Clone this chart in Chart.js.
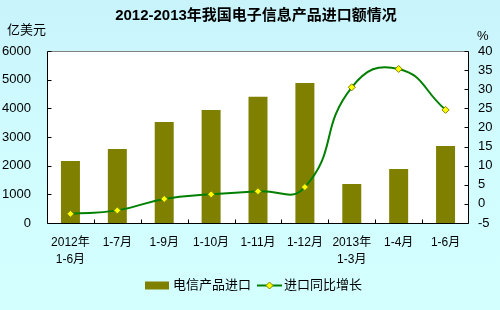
<!DOCTYPE html>
<html>
<head>
<meta charset="utf-8">
<script src="https://cdn.jsdelivr.net/npm/chart.js@4.4.0/dist/chart.umd.min.js"></script>
<style>
  html, body { margin: 0; padding: 0; }
  body {
    width: 500px; height: 310px; overflow: hidden;
    background: linear-gradient(to bottom, #c8f3fb 0%, #d0fcff 45%, #d4ffff 100%);
  }
  canvas { display: block; }
</style>
</head>
<body>
<canvas id="c" width="500" height="310"></canvas>
<script>
// ---- data ----
const categories = [['2012年', '1-6月'], '1-7月', '1-9月', '1-10月', '1-11月', '1-12月', ['2013年', '1-3月'], '1-4月', '1-6月'];
const importValues = [2160, 2580, 3520, 3940, 4400, 4880, 1360, 1880, 2690];   // 亿美元
const growthRates = [-2.6, -1.7, 1.3, 2.5, 3.3, 4.4, 30.5, 35.3, 24.6];        // %
const leftTicks = [0, 1000, 2000, 3000, 4000, 5000, 6000];
const rightTicks = [-5, 0, 5, 10, 15, 20, 25, 30, 35, 40];

const titleText = '2012-2013年我国电子信息产品进口额情况';
const barLabel = '电信产品进口';
const lineLabel = '进口同比增长';

const FONT = '"Liberation Sans", Arial, "Noto Sans CJK SC", sans-serif';
const OLIVE = '#808000';
const GREEN = '#008000';

// frame, inward ticks, title, unit labels and legend
const framePlugin = {
  id: 'frame',
  beforeDraw(chart) {
    const { ctx, chartArea: a } = chart;
    ctx.save();
    ctx.fillStyle = '#ffffff';
    ctx.fillRect(a.left, a.top, a.right - a.left, a.bottom - a.top);
    ctx.restore();
  },
  afterDraw(chart) {
    const { ctx, chartArea: a, scales } = chart;
    const L = Math.round(a.left) + 0.5, R = Math.round(a.right) - 0.5;
    const T = Math.round(a.top) + 0.5, B = Math.round(a.bottom) + 0.5;
    ctx.save();
    ctx.lineWidth = 1;
    // top border
    ctx.strokeStyle = '#808080';
    ctx.beginPath(); ctx.moveTo(L, T); ctx.lineTo(R, T); ctx.stroke();
    // axes
    ctx.strokeStyle = '#000000';
    ctx.beginPath();
    ctx.moveTo(L, T); ctx.lineTo(L, B); ctx.lineTo(R, B); ctx.lineTo(R, T);
    // left ticks
    leftTicks.forEach(v => {
      const y = Math.round(scales.y.getPixelForValue(v)) + 0.5;
      ctx.moveTo(L, y); ctx.lineTo(L + 4, y);
    });
    // right ticks
    rightTicks.forEach(v => {
      const y = Math.round(scales.y1.getPixelForValue(v)) + 0.5;
      ctx.moveTo(R - 4, y); ctx.lineTo(R, y);
    });
    // category boundaries
    for (let i = 1; i < categories.length; i++) {
      const x = Math.round((scales.x.getPixelForValue(i - 1) + scales.x.getPixelForValue(i)) / 2) + 0.5;
      ctx.moveTo(x, B); ctx.lineTo(x, B - 4);
    }
    ctx.stroke();

    // title
    ctx.fillStyle = '#000000';
    ctx.font = 'bold 15px ' + FONT;
    ctx.textAlign = 'center';
    ctx.textBaseline = 'middle';
    ctx.fillText(titleText, 256, 16);

    // unit labels
    ctx.font = '13px ' + FONT;
    ctx.textAlign = 'left';
    ctx.fillText('亿美元', 7, 30);
    ctx.fillText('%', 477, 36);

    // legend
    const ly = 285.5;
    ctx.fillStyle = OLIVE;
    ctx.fillRect(145, ly - 4, 24, 8);
    ctx.fillStyle = '#000000';
    ctx.fillText(barLabel, 173, ly);
    ctx.strokeStyle = GREEN;
    ctx.lineWidth = 2;
    ctx.beginPath(); ctx.moveTo(257, ly); ctx.lineTo(282, ly); ctx.stroke();
    ctx.fillStyle = '#ffff00';
    ctx.strokeStyle = OLIVE;
    ctx.lineWidth = 1;
    ctx.beginPath();
    ctx.moveTo(269.5, ly - 3.5); ctx.lineTo(273, ly); ctx.lineTo(269.5, ly + 3.5); ctx.lineTo(266, ly);
    ctx.closePath(); ctx.fill(); ctx.stroke();
    ctx.fillStyle = '#000000';
    ctx.fillText(lineLabel, 284, ly);
    ctx.restore();
  }
};

new Chart(document.getElementById('c'), {
  data: {
    labels: categories,
    datasets: [
      {
        type: 'line',
        label: lineLabel,
        data: growthRates,
        yAxisID: 'y1',
        order: 0,
        borderColor: GREEN,
        borderWidth: 2,
        tension: 0.5,
        pointStyle: 'rectRot',
        pointRadius: 3.5,
        pointBackgroundColor: '#ffff00',
        pointBorderColor: OLIVE,
        pointBorderWidth: 1
      },
      {
        type: 'bar',
        label: barLabel,
        data: importValues,
        yAxisID: 'y',
        order: 1,
        backgroundColor: OLIVE,
        barPercentage: 0.405,
        categoryPercentage: 1
      }
    ]
  },
  options: {
    responsive: false,
    animation: false,
    layout: { padding: { top: 51, left: 0, right: 0, bottom: 0 } },
    plugins: {
      legend: { display: false },
      title: { display: false },
      tooltip: { enabled: false }
    },
    scales: {
      x: {
        offset: true,
        grid: { display: false, drawTicks: false, tickLength: 0 },
        border: { display: false },
        ticks: {
          color: '#000000',
          font: { family: FONT, size: 12, lineHeight: 1.4 },
          padding: 11,
          maxRotation: 0,
          autoSkip: false
        },
        afterFit(s) { s.height = 87; }
      },
      y: {
        position: 'left',
        min: leftTicks[0],
        max: leftTicks[leftTicks.length - 1],
        grid: { display: false, drawTicks: false, tickLength: 0 },
        border: { display: false },
        ticks: {
          stepSize: 1000,
          color: '#000000',
          font: { family: FONT, size: 13 },
          padding: 16,
          callback: v => String(v)
        },
        afterFit(s) { s.width = 47; }
      },
      y1: {
        position: 'right',
        min: rightTicks[0],
        max: rightTicks[rightTicks.length - 1],
        grid: { display: false, drawTicks: false, tickLength: 0 },
        border: { display: false },
        ticks: {
          stepSize: 5,
          color: '#000000',
          font: { family: FONT, size: 13 },
          padding: 9,
          callback: v => String(v)
        },
        afterFit(s) { s.width = 31; }
      }
    }
  },
  plugins: [framePlugin]
});
</script>
</body>
</html>
